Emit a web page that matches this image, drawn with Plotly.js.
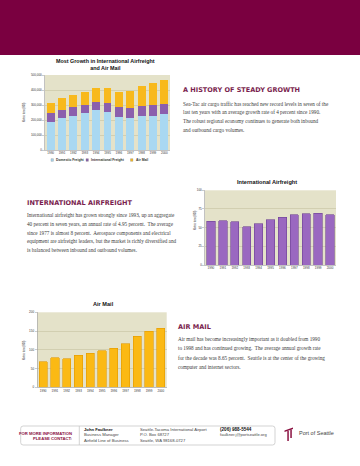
<!DOCTYPE html>
<html>
<head>
<meta charset="utf-8">
<script src="https://cdn.plot.ly/plotly-3.0.1.min.js"></script>
<style>html,body{margin:0;padding:0;background:#fff;}#chart{width:360px;height:466px;}</style>
</head>
<body>
<div id="chart"></div>
<script>
// ---- data ----
const years = ['1990','1991','1992','1993','1994','1995','1996','1997','1998','1999','2000'];
const domesticFreight = [189, 211, 229, 249, 267, 253, 222, 211, 224, 230, 240];      // thousand metric tons
const internationalFreight = [58.5, 59, 58, 51.3, 55.4, 60.3, 63.8, 67.4, 68.3, 69.2, 67]; // thousand metric tons
const airMail = [67.6, 79, 76.4, 85.3, 90.7, 97.8, 104, 115.6, 136, 149, 157];        // thousand metric tons
const seriesNames = ['Domestic Freight', 'International Freight', 'Air Mail'];
const mainTitle = 'Most Growth in International Airfreight<br>and Air Mail';
const intlTitle = 'International Airfreight';
const mailTitle = 'Air Mail';
const yTitle = 'Metric tons (000)';

// ---- helpers ----
const W = 360, H = 466;
const px = x => x / W, py = y => 1 - y / H;
const C = {dom:'#a9d8f2', intl:'#8b5fad', mail:'#f8b91c', bg:'#e4e2c9', grid:'#c6c3a2', axis:'#9a9a9a', maroon:'#7a0040', head:'#7a1e4e', text:'#3a3a3a'};
const SANS = 'Liberation Sans, Arial, sans-serif';
const HEAD = 'DejaVu Sans, Liberation Sans, sans-serif';
const SERIF = 'Liberation Serif, Times New Roman, serif';
const k = a => a.map(v => v * 1000);

const traces = [
  {type:'bar', x:years, y:k(domesticFreight), name:seriesNames[0], marker:{color:C.dom, line:{width:0}}, xaxis:'x', yaxis:'y', showlegend:false},
  {type:'bar', x:years, y:k(internationalFreight), name:seriesNames[1], marker:{color:C.intl, line:{width:0}}, xaxis:'x', yaxis:'y', showlegend:false},
  {type:'bar', x:years, y:k(airMail), name:seriesNames[2], marker:{color:C.mail, line:{width:0}}, xaxis:'x', yaxis:'y', showlegend:false},
  {type:'bar', x:years, y:internationalFreight, name:intlTitle, marker:{color:'#9a68c0', line:{color:'#6e4392', width:0.6}}, xaxis:'x2', yaxis:'y2', showlegend:false, offsetgroup:'b'},
  {type:'bar', x:years, y:airMail, name:mailTitle, marker:{color:'#fbb914', line:{color:'#e29a00', width:0.6}}, xaxis:'x3', yaxis:'y3', showlegend:false, offsetgroup:'c'}
];

function xax(dom, anchor){
  return {domain:dom, anchor:anchor, type:'category', showline:true, linecolor:C.axis, linewidth:0.6,
    ticks:'', tickfont:{family:SANS, size:3, color:'#333'}, fixedrange:true, showgrid:false};
}
function yax(dom, anchor, range, dtick, fmt){
  return {domain:dom, anchor:anchor, range:range, dtick:dtick, tickformat:fmt, showline:true, linecolor:C.axis, linewidth:0.6,
    ticks:'outside', ticklen:2, tickwidth:0.5, tickcolor:C.axis, tickfont:{family:SANS, size:3, color:'#333'},
    gridcolor:C.grid, gridwidth:0.6, zeroline:false, fixedrange:true};
}

function T(text, x, y, size, o){
  o = o || {};
  return {text:text, x:px(x), y:py(y), xref:'paper', yref:'paper', xanchor:o.xa||'left', yanchor:o.ya||'middle',
    showarrow:false, textangle:o.angle||0, align:o.align||'left',
    font:{family:o.family||SANS, size:size, color:o.color||C.text}};
}

const ann = [];
// chart titles
ann.push(T('<b>'+mainTitle+'</b>', 105, 64.5, 5.4, {xa:'center', align:'center', color:'#111'}));
ann.push(T('<b>'+intlTitle+'</b>', 267, 182, 5.6, {xa:'center', color:'#111'}));
ann.push(T('<b>'+mailTitle+'</b>', 103, 304, 5.6, {xa:'center', color:'#111'}));
// y titles
ann.push(T(yTitle, 24, 112, 2.6, {xa:'center', angle:-90, color:'#333'}));
ann.push(T(yTitle, 195, 220, 2.6, {xa:'center', angle:-90, color:'#333'}));
ann.push(T(yTitle, 24, 350, 2.6, {xa:'center', angle:-90, color:'#333'}));
// legend text
const legX = [54, 89, 133.5];
const legCol = [C.dom, C.intl, C.mail];
seriesNames.forEach((n,i)=> ann.push(T('<b>'+n+'</b>', legX[i], 160, 3.4, {color:'#333'})));

// headings + paragraphs
ann.push(T('<b>A HISTORY OF STEADY GROWTH</b>', 181, 90, 6.5, {color:C.head, family:HEAD}));
['Sea-Tac air cargo traffic has reached new record levels in seven of the',
 'last ten years with an average growth rate of 4 percent since 1990.',
 'The robust regional economy continues to generate both inbound',
 'and outbound cargo volumes.'].forEach((s,i)=>ann.push(T(s, 181, 103.5 + i*8.9, 5.2, {family:SERIF})));

ann.push(T('<b>INTERNATIONAL AIRFREIGHT</b>', 25, 203.3, 6.5, {color:C.head, family:HEAD}));
['International airfreight has grown strongly since 1993, up an aggregate',
 '40 percent in seven years, an annual rate of 4.95 percent.  The average',
 'since 1977 is almost 8 percent.  Aerospace components and electrical',
 'equipment are airfreight leaders, but the market is richly diversified and',
 'is balanced between inbound and outbound volumes.'].forEach((s,i)=>ann.push(T(s, 25, 215 + i*8.8, 5.2, {family:SERIF})));

ann.push(T('<b>AIR MAIL</b>', 176, 326.7, 6.5, {color:C.head, family:HEAD}));
['Air mail has become increasingly important as it doubled from 1990',
 'to 1998 and has continued growing.  The average annual growth rate',
 'for the decade was 8.65 percent.  Seattle is at the center of the growing',
 'computer and internet sectors.'].forEach((s,i)=>ann.push(T(s, 176, 339.3 + i*9.1, 5.2, {family:SERIF})));

// footer
ann.push(T('<b>FOR MORE INFORMATION</b>', 73.5, 433.3, 4.2, {xa:'right', align:'right', family:'Liberation Sans Narrow, Arial Narrow, sans-serif', color:'#8a1040'}));
ann.push(T('<b>PLEASE CONTACT:</b>', 73.5, 438.6, 4.2, {xa:'right', align:'right', family:'Liberation Sans Narrow, Arial Narrow, sans-serif', color:'#8a1040'}));
ann.push(T('<b>John Faulkner</b>', 82, 429.3, 4.2, {color:'#111'}));
ann.push(T('Business Manager', 82, 434.8, 4.2, {color:'#444'}));
ann.push(T('Airfield Line of Business', 82, 440.3, 4.2, {color:'#444'}));
ann.push(T('Seattle-Tacoma International Airport', 137.5, 429.3, 4.2, {color:'#444'}));
ann.push(T('P.O. Box 68727', 137.5, 434.8, 4.2, {color:'#444'}));
ann.push(T('Seattle, WA 98168-0727', 137.5, 440.3, 4.2, {color:'#444'}));
ann.push(T('<b>(206) 988-5544</b>', 217.5, 429.3, 4.6, {color:'#111'}));
ann.push(T('faulkner.j@portseattle.org', 217.5, 434.8, 4.1, {color:'#444'}));
ann.push(T('Port of Seattle', 297, 433.3, 5.5, {color:'#444'}));

// shapes
const shapes = [];
shapes.push({type:'rect', xref:'paper', yref:'paper', x0:0, x1:1, y0:py(55), y1:1, fillcolor:C.maroon, line:{width:0}, layer:'below'});
seriesNames.forEach((n,i)=> shapes.push({type:'rect', xref:'paper', yref:'paper', x0:px(legX[i]-3), x1:px(legX[i]-0.6), y0:py(161.3), y1:py(158.7), fillcolor:legCol[i], line:{color:'#777', width:0.3}}));
// footer rounded box
(function(){
  const x0=20.7,x1=275,y0=426,y1=445,r=2.5;
  const P=(x,y)=>px(x)+','+py(y);
  const d='M'+P(x0+r,y0)+' L'+P(x1-r,y0)+' Q'+P(x1,y0)+' '+P(x1,y0+r)+' L'+P(x1,y1-r)+' Q'+P(x1,y1)+' '+P(x1-r,y1)+
          ' L'+P(x0+r,y1)+' Q'+P(x0,y1)+' '+P(x0,y1-r)+' L'+P(x0,y0+r)+' Q'+P(x0,y0)+' '+P(x0+r,y0)+' Z';
  shapes.push({type:'path', xref:'paper', yref:'paper', path:d, fillcolor:'rgba(0,0,0,0)', line:{color:'#c8c8c8', width:0.8}});
  shapes.push({type:'line', xref:'paper', yref:'paper', x0:px(79.3), x1:px(79.3), y0:py(426), y1:py(445), line:{color:'#c8c8c8', width:0.8}});
})();
// logo
shapes.push({type:'path', xref:'paper', yref:'paper', path:'M'+px(284.5)+','+py(430.5)+' L'+px(293)+','+py(427.5)+' L'+px(293)+','+py(429)+' L'+px(284.5)+','+py(432)+' Z', fillcolor:'#8a1040', line:{width:0}});
shapes.push({type:'rect', xref:'paper', yref:'paper', x0:px(287.3), x1:px(288.8), y0:py(441), y1:py(430.8), fillcolor:'#8a1040', line:{width:0}});
shapes.push({type:'rect', xref:'paper', yref:'paper', x0:px(290.3), x1:px(291.8), y0:py(438), y1:py(429.5), fillcolor:'#8a1040', line:{width:0}});

const layout = {
  width:W, height:H, margin:{l:0,r:0,t:0,b:0}, paper_bgcolor:'#fff', plot_bgcolor:C.bg,
  barmode:'stack', bargap:0.3, showlegend:false,
  xaxis: xax([px(45), px(170)], 'y'),
  yaxis: yax([py(150), py(75)], 'x', [0, 500000], 100000, ',d'),
  xaxis2: xax([px(205), px(336)], 'y2'),
  yaxis2: yax([py(265), py(190.3)], 'x2', [0, 100], 25, 'd'),
  xaxis3: xax([px(37.3), px(166.7)], 'y3'),
  yaxis3: yax([py(387.3), py(312.3)], 'x3', [0, 200], 50, 'd'),
  annotations: ann, shapes: shapes,
  font:{family:SANS}
};
Plotly.newPlot('chart', traces, layout, {staticPlot:true, displayModeBar:false});
</script>
</body>
</html>
